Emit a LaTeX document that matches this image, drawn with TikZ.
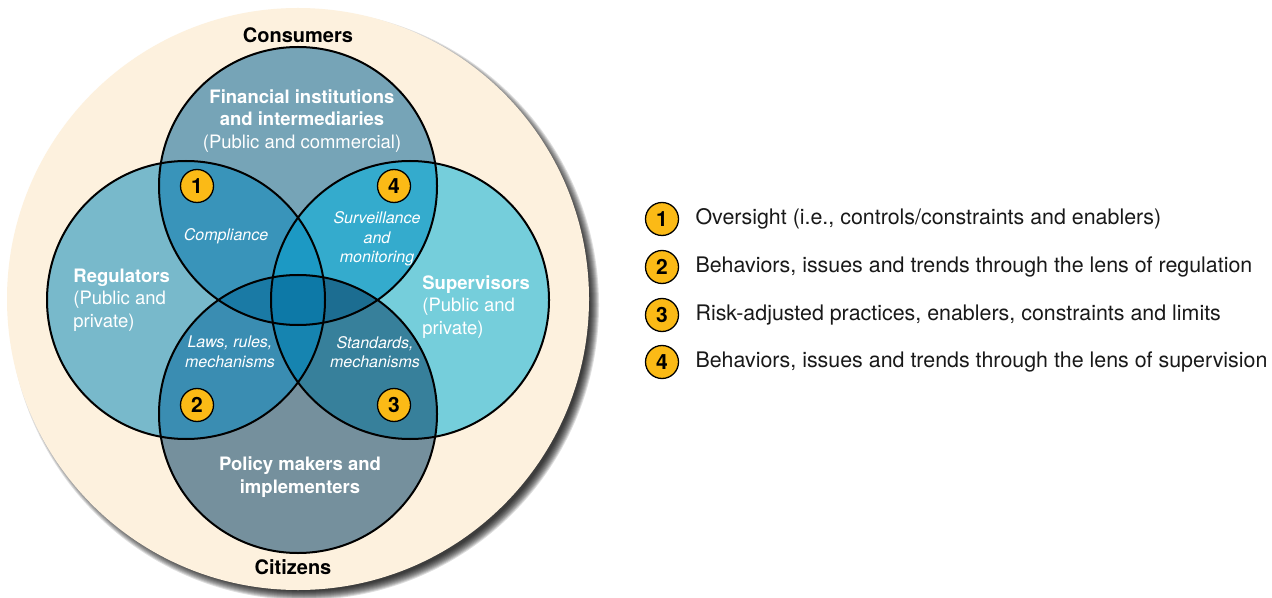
\documentclass[tikz,border=0pt]{standalone}
\usepackage{fontspec}
\setmainfont{TeX Gyre Heros}
\usetikzlibrary{positioning}
\definecolor{worldcream} {RGB}{253,241,222}
\definecolor{fincol}     {RGB}{118,164,183}
\definecolor{regcol}     {RGB}{120,185,203}
\definecolor{supcol}     {RGB}{117,206,219}
\definecolor{polcol}     {RGB}{117,144,157}
\definecolor{finreg}     {RGB}{ 57,148,186}
\definecolor{finsup}     {RGB}{ 52,171,205}
\definecolor{polreg}     {RGB}{ 58,141,178}
\definecolor{polsup}     {RGB}{ 55,128,155}
\definecolor{upperlens}  {RGB}{ 28,153,196}
\definecolor{lowerlens}  {RGB}{ 22,132,176}
\definecolor{leftlens}   {RGB}{ 26,122,165}
\definecolor{rightlens}  {RGB}{ 28,109,145}
\definecolor{corecol}    {RGB}{ 13,121,167}
\definecolor{badgegold}  {RGB}{251,186, 22}
\definecolor{keyink}     {RGB}{ 25, 25, 25}
\newcommand{\fsize}[2]{\fontsize{#1}{#2}\selectfont}
\tikzset{
  %% Black rim round each of the four groups
  ring/.style={draw=black, line width=1pt},
  %% White text inside the circles
  grouplabel/.style={text=white, font=\fsize{9.25}{11.2}, inner sep=0pt},
  themelabel/.style={
    text=white, font=\fsize{8}{9.8}\itshape,
    align=center, inner sep=0pt
  },
  outerlabel/.style={font=\fsize{10}{12}\bfseries, inner sep=0pt},
  %% Numbered gold discs
  badge/.style={
    circle, fill=badgegold, draw=black, line width=0.65pt,
    inner sep=0pt, minimum size=16.5pt, font=\fsize{10.5}{12}\bfseries
  },
  keytext/.style={font=\fsize{10.7}{13}, text=keyink, inner sep=0pt},
}

\begin{document}
\begin{tikzpicture}[x=0.5pt, y=-0.5pt, line cap=round, line join=round]

  %% ── Layout constants ──────────────────────────────────────────────────
  \def\R{139}    % radius of the four group circles
  \def\W{291}    % radius of the outer circle

  \useasboundingbox (0,0) rectangle (1272,598);
  \fill[white] (0,0) rectangle (1272,598);

  \coordinate (world) at (298,299);
  \coordinate (fin)   at (298,186);
  \coordinate (reg)   at (186,300);
  \coordinate (sup)   at (410,300);
  \coordinate (pol)   at (298,414);

  %% ══════════════════════════════════════════════════════════════════════
  %%  OUTER CIRCLE
  %% ══════════════════════════════════════════════════════════════════════
  %% soft shadow, built from stacked discs
  \foreach \k in {0,...,9}{
    \fill[black, opacity=0.13] ([shift={(6,6)}]world) circle[radius=\W+4-\k];
  }
  \fill[worldcream] (world) circle[radius=\W];

  %% ══════════════════════════════════════════════════════════════════════
  %%  FOUR GROUPS
  %% ══════════════════════════════════════════════════════════════════════
  \fill[fincol] (fin) circle[radius=\R];
  \fill[regcol] (reg) circle[radius=\R];
  \fill[supcol] (sup) circle[radius=\R];
  \fill[polcol] (pol) circle[radius=\R];

  %% pairwise overlaps
  \begin{scope}
    \clip (fin) circle[radius=\R];
    \fill[finreg] (reg) circle[radius=\R];
    \fill[finsup] (sup) circle[radius=\R];
  \end{scope}
  \begin{scope}
    \clip (pol) circle[radius=\R];
    \fill[polreg] (reg) circle[radius=\R];
    \fill[polsup] (sup) circle[radius=\R];
  \end{scope}

  %% three-way overlaps
  \begin{scope}
    \clip (reg) circle[radius=\R];
    \clip (sup) circle[radius=\R];
    \fill[upperlens] (fin) circle[radius=\R];
    \fill[lowerlens] (pol) circle[radius=\R];
  \end{scope}
  \begin{scope}
    \clip (fin) circle[radius=\R];
    \clip (pol) circle[radius=\R];
    \fill[leftlens]  (reg) circle[radius=\R];
    \fill[rightlens] (sup) circle[radius=\R];
  \end{scope}

  %% all four
  \begin{scope}
    \clip (fin) circle[radius=\R];
    \clip (pol) circle[radius=\R];
    \clip (reg) circle[radius=\R];
    \fill[corecol] (sup) circle[radius=\R];
  \end{scope}

  \foreach \c in {fin,reg,sup,pol}{
    \draw[ring] (\c) circle[radius=\R];
  }

  %% ── Labels ────────────────────────────────────────────────────────────
  \node[outerlabel] (consumers) at (298,35)  {Consumers};
  \node[outerlabel] (citizens)  at (293,567) {Citizens};

  \node[grouplabel, align=center] (finlabel) at (302,121)
        {\textbf{Financial institutions}\\\textbf{and intermediaries}\\
         (Public and commercial)};
  \node[grouplabel, align=left, anchor=west] (reglabel) at (73,300)
        {\textbf{Regulators}\\(Public and\\private)};
  \node[grouplabel, align=left, anchor=west] (suplabel) at (422,307)
        {\textbf{Supervisors}\\(Public and\\private)};
  \node[grouplabel, align=center] (pollabel) at (300,477)
        {\textbf{Policy makers and}\\\textbf{implementers}};

  \node[themelabel] (compliance) at (226,236) {Compliance};
  \node[themelabel] (surveil)    at (377,239)
        {Surveillance\\and\\monitoring};
  \node[themelabel] (laws)       at (230,352) {Laws, rules,\\mechanisms};
  \node[themelabel] (standards)  at (375,352) {Standards,\\mechanisms};

  \node[badge] (badge1) at (197,186) {1};
  \node[badge] (badge4) at (394,186) {4};
  \node[badge] (badge2) at (197,405) {2};
  \node[badge] (badge3) at (394,405) {3};

  %% ══════════════════════════════════════════════════════════════════════
  %%  KEY
  %% ══════════════════════════════════════════════════════════════════════
  \foreach \n/\y/\txt in {
    1/219/{Oversight (i.e., controls/constraints and enablers)},
    2/267/{Behaviors, issues and trends through the lens of regulation},
    3/315/{Risk-adjusted practices, enablers, constraints and limits},
    4/362/{Behaviors, issues and trends through the lens of supervision}
  }{
    \node[badge] (key\n) at (662,\y) {\n};
    \node[keytext, right=8pt of key\n] (keytext\n) {\txt};
  }

\end{tikzpicture}
\end{document}
